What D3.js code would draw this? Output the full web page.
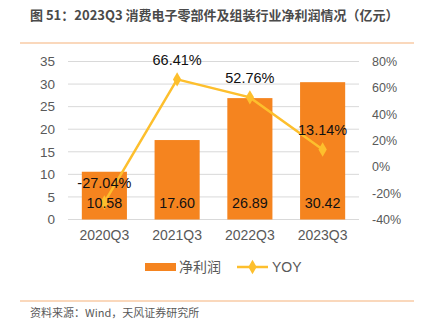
<!DOCTYPE html>
<html><head><meta charset="utf-8">
<script src="https://cdn.jsdelivr.net/npm/d3@7"></script>
<style>body{margin:0;background:#fff;} svg{display:block;font-family:"Noto Sans CJK SC","Liberation Sans",sans-serif;}</style>
</head><body>
<svg id="c" width="422" height="327"></svg>
<script>
const categories = ["2020Q3","2021Q3","2022Q3","2023Q3"];
const profit = [10.58, 17.60, 26.89, 30.42];
const yoy = [-27.04, 66.41, 52.76, 13.14];
const leftTicks = [0,5,10,15,20,25,30,35];
const rightTicks = [-40,-20,0,20,40,60,80];

const svg = d3.select("#c");
const x = d3.scaleBand().domain(categories).range([68, 359]).paddingInner(0.38).paddingOuter(0.19);
const yL = d3.scaleLinear().domain([0,35]).range([219.5, 61.5]);
const yR = d3.scaleLinear().domain([-40,80]).range([219.5, 61.5]);
const latin = "Liberation Sans, Arial, sans-serif";

// title
svg.append("text").attr("x",30).attr("y",20).attr("font-size",13).attr("font-weight","bold").attr("fill","#4a4a4a")
  .text("图 51：2023Q3 消费电子零部件及组装行业净利润情况（亿元）");
// decorative lines
svg.append("line").attr("x1",20).attr("x2",414).attr("y1",43).attr("y2",43).attr("stroke","#F8CBA6").attr("stroke-width",1.5);
svg.append("line").attr("x1",20).attr("x2",414).attr("y1",301).attr("y2",301).attr("stroke","#F8CBA6").attr("stroke-width",1.5);

// grid
svg.append("g").selectAll("line").data(leftTicks).join("line")
  .attr("x1",68).attr("x2",359).attr("y1",d=>yL(d)).attr("y2",d=>yL(d))
  .attr("stroke","#d9d9d9").attr("stroke-width",1);

// left axis
const gl = svg.append("g").attr("transform","translate(68,0)")
  .call(d3.axisLeft(yL).tickValues(leftTicks).tickSize(0).tickPadding(13));
gl.select(".domain").remove();
gl.selectAll("text").attr("font-size",13.5).attr("fill","#595959").attr("font-family",latin);

// right axis
const gr = svg.append("g").attr("transform","translate(359,0)")
  .call(d3.axisRight(yR).tickValues(rightTicks).tickSize(0).tickPadding(13).tickFormat(d=>d+"%"));
gr.select(".domain").remove();
gr.selectAll("text").attr("font-size",12.5).attr("fill","#595959").attr("font-family",latin);

// x axis
const gx = svg.append("g").attr("transform","translate(0,219.5)")
  .call(d3.axisBottom(x).tickSize(0).tickPadding(11));
gx.select(".domain").remove();
gx.selectAll("text").attr("font-size",14).attr("fill","#595959").attr("font-family",latin);

// bars
svg.append("g").selectAll("rect").data(profit).join("rect")
  .attr("x",(d,i)=>x(categories[i])).attr("width",x.bandwidth())
  .attr("y",d=>yL(d)).attr("height",d=>yL(0)-yL(d)).attr("fill","#F5841F");

// line
const line = d3.line().x((d,i)=>x(categories[i])+x.bandwidth()/2).y(d=>yR(d));
svg.append("path").datum(yoy).attr("d",line).attr("fill","none").attr("stroke","#FDBF2D").attr("stroke-width",2.5);
svg.append("g").selectAll("path").data(yoy).join("path")
  .attr("d",d3.symbol(d3.symbolDiamond,60))
  .attr("transform",(d,i)=>`translate(${x(categories[i])+x.bandwidth()/2},${yR(d)})`)
  .attr("fill","#FDBF2D");

// bar labels
svg.append("g").selectAll("text").data(profit).join("text")
  .attr("x",(d,i)=>x(categories[i])+x.bandwidth()/2).attr("y",208)
  .attr("text-anchor","middle").attr("font-size",14.3).attr("fill","#111")
  .attr("font-family",latin)
  .text(d=>d.toFixed(2));

// line labels
svg.append("g").selectAll("text").data(yoy).join("text")
  .attr("x",(d,i)=>x(categories[i])+x.bandwidth()/2).attr("y",d=>yR(d)-14.5)
  .attr("text-anchor","middle").attr("font-size",14.5).attr("fill","#111")
  .attr("font-family",latin)
  .text(d=>d.toFixed(2)+"%");

// legend
const lg = svg.append("g");
lg.append("rect").attr("x",145).attr("y",263).attr("width",31).attr("height",8).attr("fill","#F5841F");
lg.append("text").attr("x",179).attr("y",272).attr("font-size",14).attr("fill","#595959").text("净利润");
lg.append("line").attr("x1",237).attr("x2",268).attr("y1",267).attr("y2",267).attr("stroke","#FDBF2D").attr("stroke-width",2.5);
lg.append("path").attr("d",d3.symbol(d3.symbolDiamond,60)).attr("transform","translate(252.5,267)").attr("fill","#FDBF2D");
lg.append("text").attr("x",272).attr("y",272).attr("font-size",14).attr("fill","#595959").attr("font-family",latin).text("YOY");

// footer
svg.append("text").attr("x",30).attr("y",317).attr("font-size",11).attr("fill","#595959").text("资料来源：Wind，天风证券研究所");
</script>
</body></html>
